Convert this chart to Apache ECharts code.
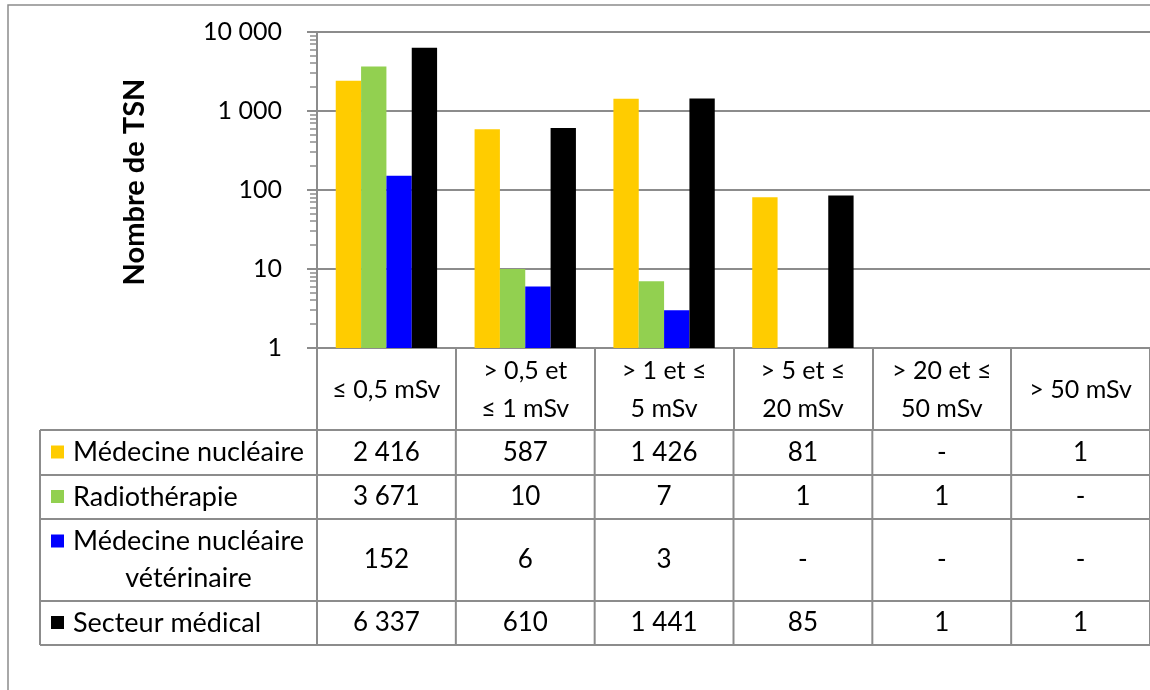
<!DOCTYPE html>
<html>
<head>
<meta charset="utf-8">
<script src="https://cdn.jsdelivr.net/npm/echarts@6/dist/echarts.min.js"></script>
<style>
html,body{margin:0;padding:0;background:#fff;}
#chart{width:1150px;height:690px;}
</style>
</head>
<body>
<div id="chart"></div>
<script>
// ---- data ----
const categories = ['≤ 0,5 mSv', '> 0,5 et\n≤ 1 mSv', '> 1 et ≤\n5 mSv', '> 5 et ≤\n20 mSv', '> 20 et ≤\n50 mSv', '> 50 mSv'];
const seriesNames = ['Médecine nucléaire', 'Radiothérapie', 'Médecine nucléaire\nvétérinaire', 'Secteur médical'];
const medecineNucleaire = [2416, 587, 1426, 81, null, 1];
const radiotherapie = [3671, 10, 7, 1, 1, null];
const medecineNucleaireVeterinaire = [152, 6, 3, null, null, null];
const secteurMedical = [6337, 610, 1441, 85, 1, 1];
const yTickValues = [1, 10, 100, 1000, 10000];
const axisTitle = 'Nombre de TSN';

// ---- style / layout ----
const seriesData = [medecineNucleaire, radiotherapie, medecineNucleaireVeterinaire, secteurMedical];
const colors = ['#FFCC00', '#92D050', '#0000FF', '#000000'];
const GRAY = '#8c8c8c';
const FONT = 'Lato, "Open Sans", sans-serif';
const FS_TABLE = 26;
const FS_LEGEND = 27;
const FS_CAT = 25;
const FS_Y = 25;
const GRID = {left: 317, top: 32, width: 844, height: 316};
const HEADER_BOTTOM = 430;
const ROW_LINES = [430, 475, 519, 601, 645];
const TABLE_LEFT = 40;

function fmt(v) {
  if (v === null || v === undefined) return '-';
  return String(v).replace(/\B(?=(\d{3})+(?!\d))/g, ' ');
}

// minor log ticks (2..9 of each decade)
const minorTicks = [];
for (let d = 0; d < yTickValues.length - 1; d++) {
  for (let m = 2; m <= 9; m++) minorTicks.push([0, m * yTickValues[d]]);
}

const chart = echarts.init(document.getElementById('chart'), null, {renderer: 'canvas'});

const barSeries = seriesNames.map((name, i) => ({
  name: name,
  type: 'bar',
  data: seriesData[i],
  itemStyle: {color: colors[i]},
  barGap: '0%',
  barCategoryGap: '27%',
  z: 2
}));

// table cells drawn per category column through the category axis
const tableSeries = {
  type: 'custom',
  name: 'table',
  data: categories.map((c, i) => [i, 1]),
  clip: false,
  silent: true,
  z: 5,
  renderItem: function (params, api) {
    const idx = params.dataIndex;
    const cx = api.coord([idx, 1])[0];
    const bw = api.size([1, 1])[0];
    const children = [];
    for (let r = 0; r < seriesData.length; r++) {
      const yc = (ROW_LINES[r] + ROW_LINES[r + 1]) / 2;
      children.push({
        type: 'text',
        style: {x: cx, y: yc, text: fmt(seriesData[r][idx]), align: 'center', verticalAlign: 'middle',
          fontFamily: FONT, fontSize: FS_TABLE, fill: '#000'}
      });
    }
    children.push({
      type: 'line',
      shape: {x1: cx + bw / 2, y1: ROW_LINES[0], x2: cx + bw / 2, y2: ROW_LINES[ROW_LINES.length - 1]},
      style: {stroke: GRAY, lineWidth: 2}
    });
    return {type: 'group', children: children};
  }
};

const minorTickSeries = {
  type: 'custom',
  name: 'minorTicks',
  data: minorTicks,
  clip: false,
  silent: true,
  renderItem: function (params, api) {
    const y = Math.round(api.coord([0, api.value(1)])[1]);
    const x = params.coordSys.x;
    return {type: 'line', shape: {x1: x - 7, y1: y, x2: x, y2: y}, style: {stroke: GRAY, lineWidth: 1.5}};
  }
};

// legend column + table frame
const graphics = [];
graphics.push({type: 'rect', shape: {x: 8, y: 5, width: 1300, height: 800}, style: {fill: null, stroke: GRAY, lineWidth: 1.5}, z: 0, silent: true});
ROW_LINES.forEach(y => {
  graphics.push({type: 'line', shape: {x1: TABLE_LEFT, y1: y, x2: GRID.left + GRID.width, y2: y}, style: {stroke: GRAY, lineWidth: 2}, z: 10, silent: true});
});
[TABLE_LEFT, GRID.left].forEach(x => {
  graphics.push({type: 'line', shape: {x1: x, y1: ROW_LINES[0], x2: x, y2: ROW_LINES[ROW_LINES.length - 1]}, style: {stroke: GRAY, lineWidth: 2}, z: 10, silent: true});
});
const measureCtx = document.createElement('canvas').getContext('2d');
measureCtx.font = FS_LEGEND + 'px ' + FONT;
seriesNames.forEach((name, r) => {
  const lines = name.split('\n');
  const yc = (ROW_LINES[r] + ROW_LINES[r + 1]) / 2;
  const lh = 37;
  const firstY = yc - (lines.length - 1) * lh / 2;
  graphics.push({type: 'rect', shape: {x: 51, y: firstY - 7, width: 13, height: 13}, style: {fill: colors[r]}, z: 10, silent: true});
  const w0 = measureCtx.measureText(lines[0]).width;
  lines.forEach((ln, k) => {
    graphics.push({
      type: 'text', z: 10, silent: true,
      style: {x: lines.length > 1 ? 73 + w0 / 2 : 73, y: firstY + k * lh, text: ln,
        align: lines.length > 1 ? 'center' : 'left', verticalAlign: 'middle',
        fontFamily: FONT, fontSize: FS_LEGEND, fill: '#000'}
    });
  });
});

const option = {
  animation: false,
  backgroundColor: '#fff',
  grid: {left: GRID.left, top: GRID.top, width: GRID.width, height: GRID.height, containLabel: false},
  xAxis: {
    type: 'category',
    data: categories,
    axisLine: {show: true, lineStyle: {color: GRAY, width: 2}},
    axisTick: {show: true, alignWithLabel: false, length: HEADER_BOTTOM - (GRID.top + GRID.height), lineStyle: {color: GRAY, width: 2}},
    axisLabel: {interval: 0, margin: 42, verticalAlign: 'middle', lineHeight: 38, fontFamily: FONT, fontSize: FS_CAT, color: '#000', align: 'center'},
    splitLine: {show: false}
  },
  yAxis: {
    type: 'log',
    logBase: 10,
    min: yTickValues[0],
    max: yTickValues[yTickValues.length - 1],
    splitNumber: yTickValues.length - 1,
    name: axisTitle,
    nameLocation: 'middle',
    nameGap: 168,
    nameRotate: 90,
    nameTextStyle: {fontFamily: FONT, fontSize: 29, fontWeight: 'bold', color: '#000', padding: [0, 0, 0, 16]},
    axisLine: {show: true, lineStyle: {color: GRAY, width: 2}},
    axisTick: {show: true, length: 10, lineStyle: {color: GRAY, width: 2}},
    splitLine: {show: true, lineStyle: {color: GRAY, width: 2}},
    axisLabel: {margin: 35, fontFamily: FONT, fontSize: FS_Y, color: '#000', formatter: v => fmt(v)}
  },
  graphic: graphics,
  series: barSeries.concat([minorTickSeries, tableSeries])
};
chart.setOption(option);
</script>
</body>
</html>
